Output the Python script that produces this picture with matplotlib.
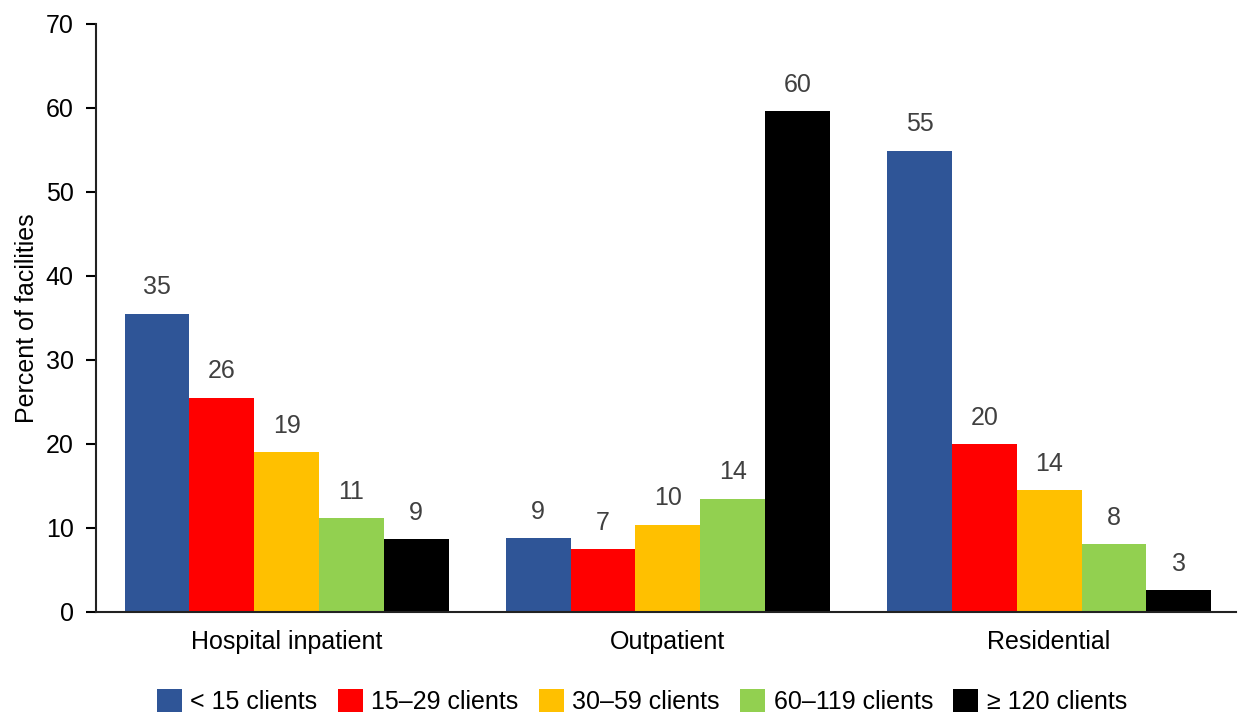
import numpy as np
import matplotlib.pyplot as plt
from matplotlib.patches import Patch

plt.rcParams['font.family'] = ['Liberation Sans', 'DejaVu Sans']

# Data
categories = ['Hospital inpatient', 'Outpatient', 'Residential']
series = ['< 15 clients', '15–29 clients', '30–59 clients', '60–119 clients', '≥ 120 clients']
values = [
    [35.5, 8.8, 54.9],   # < 15
    [25.5, 7.5, 20.0],   # 15-29
    [19.0, 10.4, 14.5],  # 30-59
    [11.2, 13.5, 8.1],   # 60-119
    [8.7, 59.6, 2.6],    # >= 120
]
labels = [
    [35, 9, 55],
    [26, 7, 20],
    [19, 10, 14],
    [11, 14, 8],
    [9, 60, 3],
]
colors = ['#2F5597', '#FF0000', '#FFC000', '#92D050', '#000000']

fig = plt.figure(figsize=(12.39, 7.13), dpi=100)
ax = fig.add_axes([0.0775, 0.1417, 0.92, 0.825])

x = np.arange(len(categories))
width = 0.17

for i, (name, vals) in enumerate(zip(series, values)):
    pos = x + (i - 2) * width
    ax.bar(pos, vals, width, color=colors[i], label=name)
    for p, v, lab in zip(pos, vals, labels[i]):
        ax.text(p, v + 2.3, str(lab), ha='center', va='baseline',
                fontsize=18, color='#404040')

# Axes styling
ax.set_xlim(-0.5, 2.49)
ax.set_ylim(0, 70)
ax.set_yticks(range(0, 71, 10))
ax.set_xticks(x)
ax.set_xticklabels(categories, fontsize=18)
ax.tick_params(axis='x', length=0, pad=13)
ax.tick_params(axis='y', labelsize=18, length=7, width=1.5, direction='out', pad=9)
ax.spines['top'].set_visible(False)
ax.spines['right'].set_visible(False)
ax.spines['left'].set_linewidth(1.5)
ax.spines['bottom'].set_linewidth(1.5)
ax.spines['left'].set_color('#222222')
ax.spines['bottom'].set_color('#222222')
ax.set_ylabel('Percent of facilities', fontsize=18)
ax.yaxis.set_label_coords(-0.05, 0.5)

handles = [Patch(facecolor=c, label=s) for c, s in zip(colors, series)]
fig.legend(handles=handles, loc='center', bbox_to_anchor=(0.518, 0.016),
           ncol=5, frameon=False, fontsize=18, handlelength=1.0, handleheight=1.0,
           handletextpad=0.35, columnspacing=0.8, borderpad=0)

fig.savefig('out.png', dpi=100)
